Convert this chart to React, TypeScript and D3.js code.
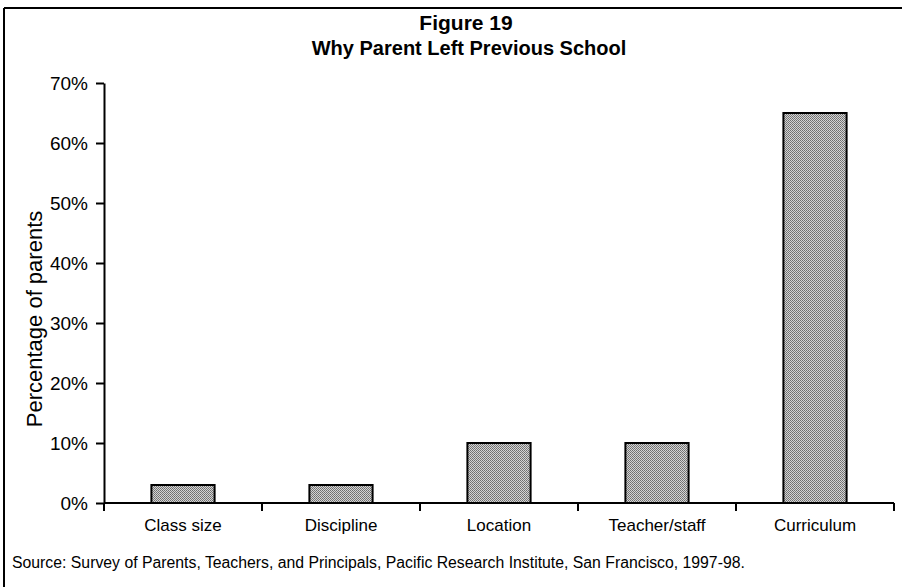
import React, { useEffect, useRef } from "react";
import { select, scaleBand, scaleLinear, axisLeft, range } from "d3";

const categories = ["Class size", "Discipline", "Location", "Teacher/staff", "Curriculum"];
const values = [3, 3, 10, 10, 65];
const yTicks = [0, 10, 20, 30, 40, 50, 60, 70];

const W = 902;
const H = 587;
const font = "'Liberation Sans', Arial, sans-serif";

export default function App() {
    const svgRef: any = useRef();

    useEffect(() => {
        const svg = select(svgRef.current);
        svg.selectAll("*").remove();

        const x0 = 104;
        const x1 = 894;
        const yTop = 83;
        const yBot = 503;

        const xScale = scaleBand().domain(categories).range([x0, x1]).paddingInner(0.6).paddingOuter(0.3);
        const yScale = scaleLinear().domain([0, 70]).range([yBot, yTop]);

        const defs = svg.append("defs");
        const pat = defs
            .append("pattern")
            .attr("id", "dots")
            .attr("width", 2)
            .attr("height", 2)
            .attr("patternUnits", "userSpaceOnUse");
        pat.append("rect").attr("width", 2).attr("height", 2).attr("fill", "#d4d4d4");
        pat.append("rect").attr("width", 1).attr("height", 1).attr("fill", "#6e6e6e");
        pat.append("rect").attr("x", 1).attr("y", 1).attr("width", 1).attr("height", 1).attr("fill", "#7c7c7c");

        // frame of the scanned figure
        svg.append("line").attr("x1", 4).attr("x2", W).attr("y1", 8).attr("y2", 8)
            .attr("stroke", "#000").attr("stroke-width", 2);
        svg.append("line").attr("x1", 4).attr("x2", 4).attr("y1", 8).attr("y2", H)
            .attr("stroke", "#000").attr("stroke-width", 2);

        // titles
        svg.append("text").attr("x", 466).attr("y", 30).attr("text-anchor", "middle")
            .attr("font-family", font).attr("font-weight", "bold").attr("font-size", 21)
            .text("Figure 19");
        svg.append("text").attr("x", 469).attr("y", 55).attr("text-anchor", "middle")
            .attr("font-family", font).attr("font-weight", "bold").attr("font-size", 20)
            .text("Why Parent Left Previous School");

        // bars
        svg.append("g")
            .selectAll("rect")
            .data(categories)
            .join("rect")
            .attr("x", (d) => xScale(d) as number)
            .attr("width", xScale.bandwidth())
            .attr("y", (d, i) => yScale(values[i]))
            .attr("height", (d, i) => yBot - yScale(values[i]))
            .attr("fill", "url(#dots)")
            .attr("stroke", "#000")
            .attr("stroke-width", 2);

        // y axis
        const yAxis: any = axisLeft(yScale).tickValues(yTicks).tickSize(8).tickSizeOuter(0)
            .tickFormat((d: any) => d + "%");
        const gy = svg.append("g").attr("transform", `translate(${x0},0)`).call(yAxis);
        gy.select(".domain").attr("stroke-width", 2);
        gy.selectAll(".tick line").attr("stroke-width", 2);
        gy.selectAll(".tick text").attr("font-family", font).attr("font-size", 19)
            .attr("fill", "#000").attr("x", -16);

        // x axis with ticks between categories
        const step = (x1 - x0) / categories.length;
        svg.append("line").attr("x1", x0).attr("x2", x1).attr("y1", yBot).attr("y2", yBot)
            .attr("stroke", "#000").attr("stroke-width", 2);
        svg.append("g").selectAll("line")
            .data(range(categories.length + 1))
            .join("line")
            .attr("x1", (i) => x0 + i * step)
            .attr("x2", (i) => x0 + i * step)
            .attr("y1", yBot)
            .attr("y2", yBot + 8)
            .attr("stroke", "#000")
            .attr("stroke-width", 2);
        svg.append("g").selectAll("text")
            .data(categories)
            .join("text")
            .attr("x", (d) => (xScale(d) as number) + xScale.bandwidth() / 2)
            .attr("y", 531)
            .attr("text-anchor", "middle")
            .attr("font-family", font)
            .attr("font-size", 17)
            .text((d) => d);

        // y label
        svg.append("text")
            .attr("transform", `translate(42,319) rotate(-90)`)
            .attr("text-anchor", "middle")
            .attr("font-family", font)
            .attr("font-size", 22)
            .text("Percentage of parents");

        // source
        svg.append("text").attr("x", 12).attr("y", 568)
            .attr("font-family", font).attr("font-size", 15.8)
            .text("Source: Survey of Parents, Teachers, and Principals, Pacific Research Institute, San Francisco, 1997-98.");
    }, []);

    return (
        <div style={{ position: "fixed", left: 0, top: 0, width: W, height: H, background: "#fff" }}>
            <svg ref={svgRef} width={W} height={H} style={{ display: "block" }} />
        </div>
    );
}
